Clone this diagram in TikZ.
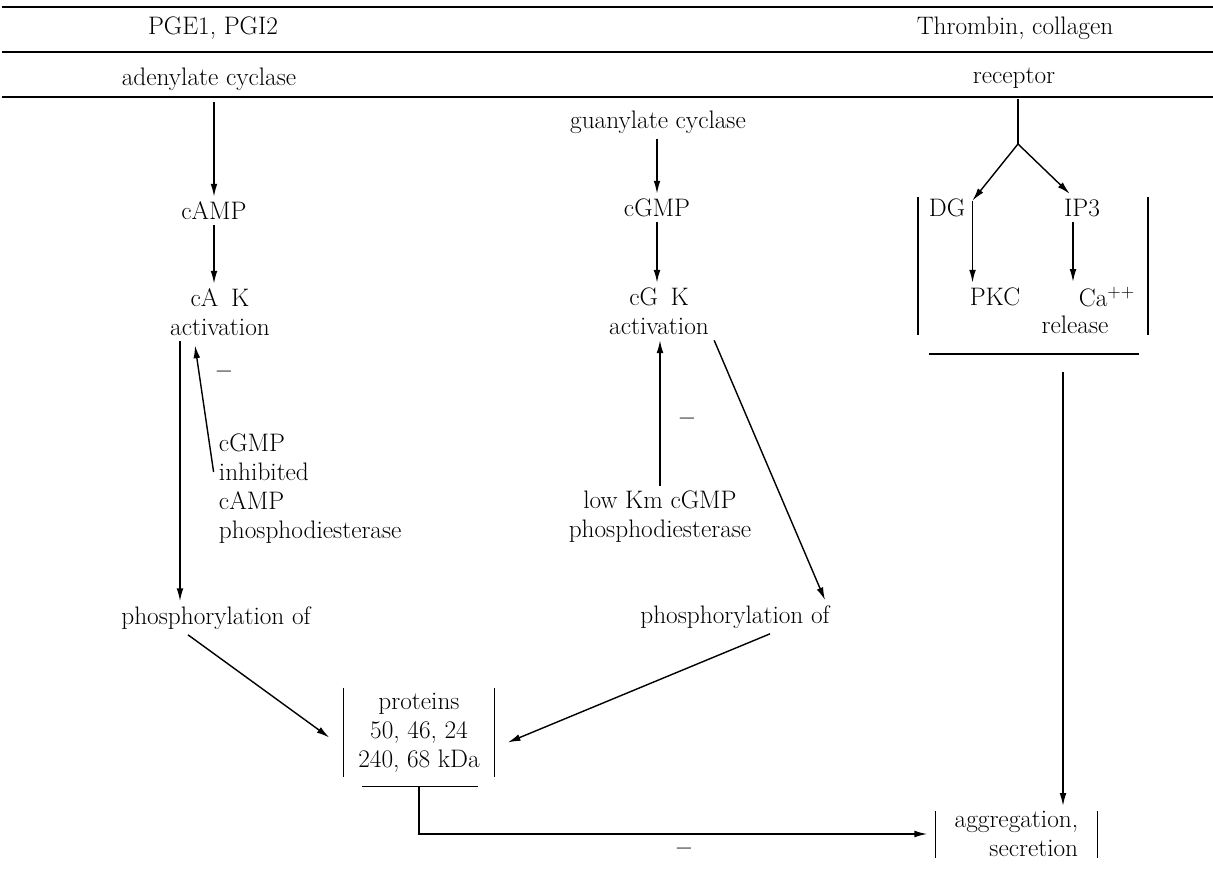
\documentclass[tikz,border=0pt]{standalone}
\usepackage{fontspec}
\usetikzlibrary{arrows.meta}

\begin{document}
\begin{tikzpicture}[line width=1pt, >={Latex[length=0.32cm,width=0.17cm]},
	every node/.style={font=\fontsize{18}{20.6}\selectfont}]
	\useasboundingbox (0,0) rectangle (30.325,22.3);
	\foreach \y in {22.125,21.0,19.875}
		\draw[line width=1.2pt] (0.05,\y) -- (30.325,\y);

	\node (pge) at (5.325,21.6) {PGE1, PGI2};
	\node (adc) at (5.225,20.325) {adenylate cyclase};
	\node (thr) at (25.375,21.6) {Thrombin, collagen};
	\node (rec) at (25.35,20.35) {receptor};

	\node (camp) at (5.35,17.025) {cAMP};
	\node[align=center] (cak) at (5.5,14.4875) {cA\enspace K\\activation};
	\node[align=left,anchor=west] (inh) at (5.34,10.075) {cGMP\\inhibited\\cAMP\\phosphodiesterase};
	\node (minA) at (5.6,12.925) {\textbf{--}};
	\node (phl) at (5.4,6.85) {phosphorylation of};

	\node (guc) at (16.45,19.25) {guanylate cyclase};
	\node (cgmp) at (16.425,17.1) {cGMP};
	\node[align=center] (cgk) at (16.475,14.5125) {cG\enspace K\\activation};
	\node[align=center] (low) at (16.5,9.375) {low Km cGMP\\phosphodiesterase};
	\node (minB) at (17.175,11.75) {\textbf{--}};
	\node (phr) at (18.375,6.875) {phosphorylation of};

	\node[align=center,minimum width=3.75cm] (prot) at (10.475,3.9875) {proteins\\50, 46, 24\\240, 68 kDa};
	\node[align=right,minimum width=4.025cm] (agg) at (25.41,1.45) {aggregation,\\secretion};
	\node (minC) at (17.1,1.0) {\textbf{--}};

	\node (dg) at (23.675,17.1) {DG};
	\node (ip3) at (27.05,17.1) {IP3};
	\node (pkc) at (24.875,14.875) {PKC};
	\node (ca) at (27.675,14.875) {Ca\textsuperscript{++}};
	\node (rel) at (26.875,14.175) {release};

	\coordinate (jn) at (25.45,18.7);
	\coordinate (rtop) at (26.575,13.0);
	\coordinate (dgc) at ([xshift=0.05cm,yshift=-0.175cm]dg.north east);

	\draw[->,shorten <=0.15cm] (adc.south -| camp) -- (camp.north);
	\draw[->] (camp.south) -- (camp.south |- cak.north);
	\draw[->] ([xshift=-1cm]cak.south) -- ([xshift=-1cm]cak.south |- phl.north);
	\draw[->] ([yshift=0.425cm]inh.west) -- ([xshift=-0.625cm,yshift=-0.1cm]cak.south);
	\draw[->] ([xshift=-0.7cm]phl.south) -- ([xshift=-0.35cm,yshift=-0.125cm]prot.west);

	\draw[->] (guc.south -| cgmp) -- (cgmp.north);
	\draw[->] (cgmp.south) -- (cgmp.south |- cgk.north);
	\draw[->] (low.north) -- (low.north |- cgk.south);
	\draw[->] (cgk.south east) -- ([xshift=-0.25cm]phr.north east);
	\draw[->] ([xshift=0.875cm]phr.south) -- ([xshift=0.325cm,yshift=-0.25cm]prot.east);

	\draw (prot.north west) -- (prot.south west) (prot.north east) -- (prot.south east);
	\draw ([xshift=0.475cm,yshift=-0.225cm]prot.south west) -- ([xshift=-0.425cm,yshift=-0.225cm]prot.south east);
	\draw[->,shorten >=0.2cm] ([yshift=-0.225cm]prot.south) |- (agg.west);
	\draw ([yshift=-0.125cm]agg.north west) -- ([yshift=0.1cm]agg.south west)
		([yshift=-0.125cm]agg.north east) -- ([yshift=0.1cm]agg.south east);

	\draw[shorten <=0.125cm] (rec.south -| jn) -- (jn);
	\draw[->] (jn) -- (dgc);
	\draw[->] (dgc) -- (dgc |- pkc.north);
	\draw[->] (jn) -- ([xshift=0.275cm]ip3.north west);
	\draw[->] ([xshift=-0.225cm]ip3.south) -- ([xshift=-0.225cm]ip3.south |- ca.north);
	\draw (22.95,17.375) -- (22.95,13.925) (28.7,17.375) -- (28.7,13.925);
	\draw (23.225,13.45) -- (28.475,13.45);
	\draw[->] (rtop) -- (rtop |- agg.north);
\end{tikzpicture}
\end{document}
